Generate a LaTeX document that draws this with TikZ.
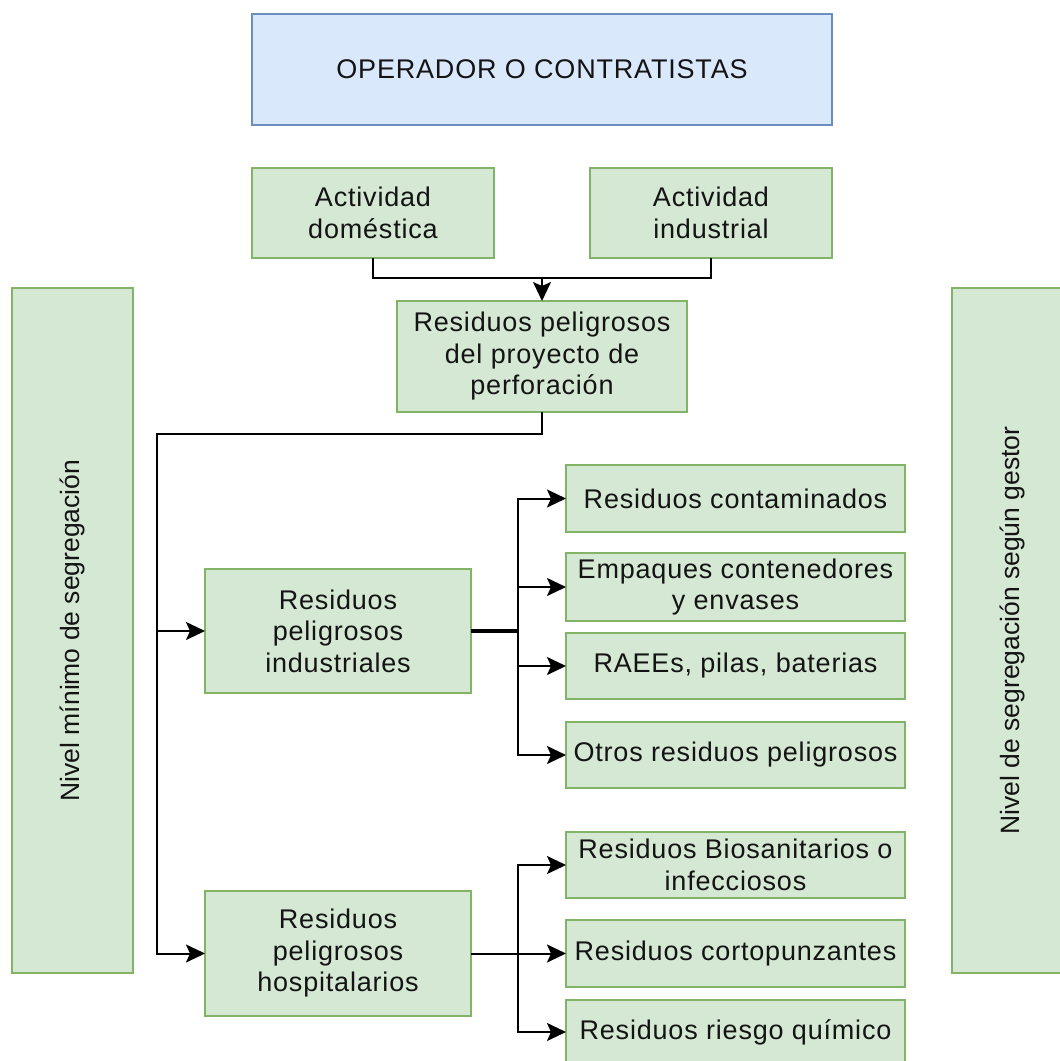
\documentclass[tikz,border=0pt]{standalone}
\usepackage{fontspec}
\setmainfont{Liberation Sans}
\newfontfamily\boxfont[LetterSpace=3]{Liberation Sans}
\usetikzlibrary{arrows.meta}
\definecolor{gfill}{HTML}{D5E8D4}
\definecolor{gline}{HTML}{82B366}
\definecolor{bfill}{HTML}{DAE8FC}
\definecolor{bline}{HTML}{6C8EBF}
\definecolor{ink}{HTML}{141414}
\begin{document}
\begin{tikzpicture}[x=1pt,y=-1pt,
  box/.style={shape=rectangle, line width=1.8pt, inner sep=0pt, outer sep=0pt,
    align=center, text=ink, font=\boxfont\fontsize{27}{31.5}\selectfont},
  gbox/.style={box, draw=gline, fill=gfill},
  bbox/.style={box, draw=bline, fill=bfill},
  side/.style={gbox, rotate=90, minimum width=685pt, minimum height=121pt,
    font=\fontsize{26.5}{31.5}\selectfont},
  leaf/.style={gbox, minimum width=339pt},
  conn/.style={line width=2pt, draw=black},
  arr/.style={conn, -{Stealth[length=19pt,width=18pt,inset=4pt]}},
  thickconn/.style={line width=3.3pt, draw=black},
]
\clip (0,0) rectangle (1060,1061);
\useasboundingbox (0,0) rectangle (1060,1061);

% header
\node[bbox, minimum width=580pt, minimum height=111pt] (op) at (542,69.5) {OPERADOR O CONTRATISTAS};

% sources
\node[gbox, minimum width=242pt, minimum height=90pt] (dom) at (373,213) {Actividad\\doméstica};
\node[gbox, minimum width=242pt, minimum height=90pt] (ind) at (711,213) {Actividad\\industrial};
\node[gbox, minimum width=290pt, minimum height=111pt] (proj) at (542,356.5) {Residuos peligrosos\\del proyecto de\\perforación};

% side bands
\node[side] (lbar) at (72.5,630.5) {Nivel mínimo de segregación};
\node[side] (rbar) at (1012.5,630.5) {Nivel de segregación según gestor};

% main categories
\node[gbox, minimum width=266pt, minimum height=124pt] (indres) at (338,631) {Residuos\\peligrosos\\industriales};
\node[gbox, minimum width=266pt, minimum height=125pt] (hosp) at (338,953.5) {Residuos\\peligrosos\\hospitalarios};

% industrial subtypes
\node[leaf, minimum height=67pt] (cont) at (735.5,498.5) {Residuos contaminados};
\node[leaf, minimum height=68pt] (emp) at (735.5,587) {Empaques contenedores\\y envases};
\node[leaf, minimum height=66pt] (raee) at (735.5,666) {RAEEs, pilas, baterias};
\node[leaf, minimum height=66pt] (otros) at (735.5,755) {Otros residuos peligrosos};

% hospital subtypes
\node[leaf, minimum height=66pt] (bio) at (735.5,865) {Residuos Biosanitarios o\\infecciosos};
\node[leaf, minimum height=67pt] (corto) at (735.5,953.5) {Residuos cortopunzantes};
\node[leaf, minimum height=64pt] (riesgo) at (735.5,1032) {Residuos riesgo químico};

% activity merge
\coordinate (j1) at (542,278);
\draw[conn] (dom.south) |- (j1) -| (ind.south);
\draw[arr] (j1) -- (proj.north);

% split into categories
\coordinate (j2) at (157,434);
\draw[arr] (proj.south) |- (j2) |- (hosp.west);
\draw[arr] (j2 |- indres.west) -- (indres.west);

% industrial branch
\coordinate (b1) at (518,631);
\draw[thickconn] (indres.east) -- (b1);
\draw[arr] (b1) |- (cont.west);
\draw[arr] (b1) |- (emp.west);
\draw[arr] (b1) |- (raee.west);
\draw[arr] (b1) |- (otros.west);

% hospital branch
\coordinate (b2) at (518,953.5);
\draw[conn] (hosp.east) -- (b2);
\draw[arr] (b2) |- (bio.west);
\draw[arr] (b2) -- (corto.west);
\draw[arr] (b2) |- (riesgo.west);
\end{tikzpicture}
\end{document}
